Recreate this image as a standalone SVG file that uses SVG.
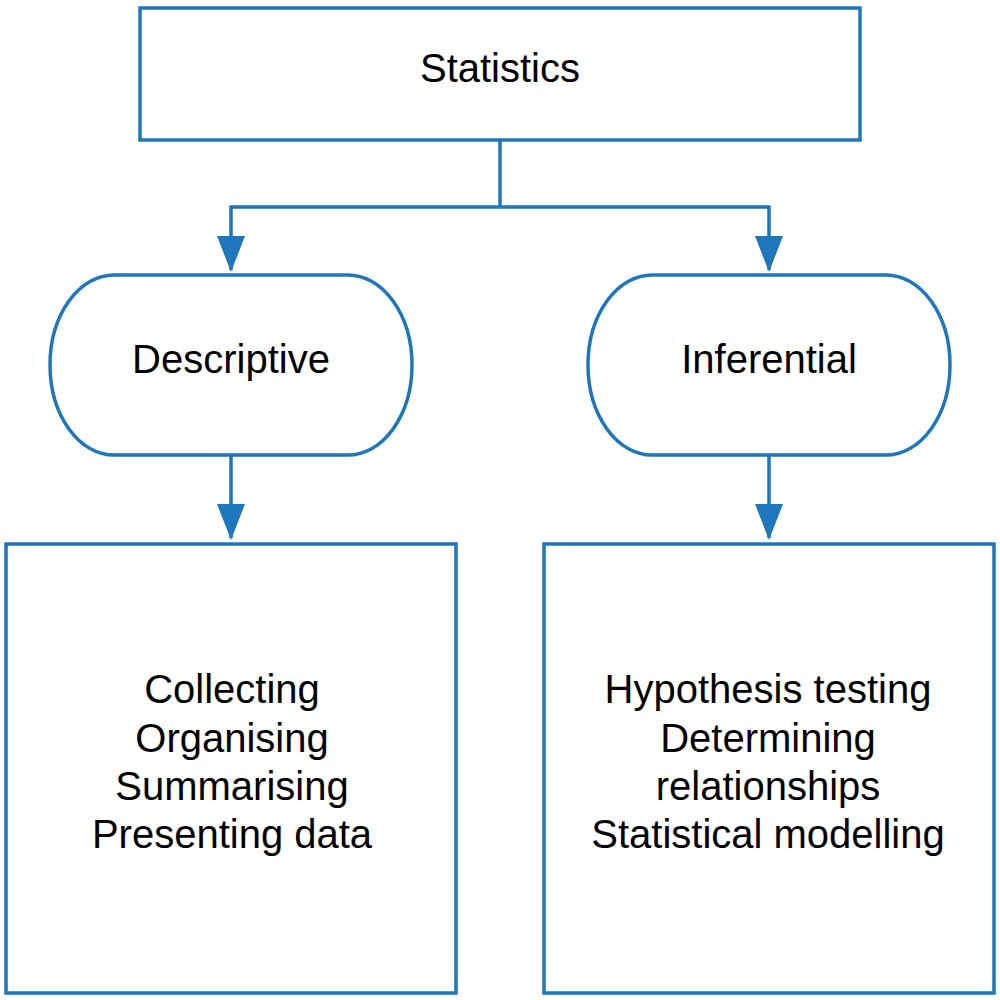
<svg xmlns="http://www.w3.org/2000/svg" width="1000" height="1000" viewBox="0 0 1000 1000">
<style>
.box{fill:#fff;stroke:#1e76bc;stroke-width:3.5}
.conn{fill:none;stroke:#1e76bc;stroke-width:3.5}
text{font-family:"Liberation Sans",Arial,sans-serif;font-size:40px;fill:#000;text-anchor:middle}
</style>
<defs>
<marker id="arr" markerUnits="userSpaceOnUse" markerWidth="36" markerHeight="28" refX="34" refY="14" orient="auto">
<path d="M0,0 L36,14 L0,28 z" fill="#1e76bc"/>
</marker>
</defs>
<rect width="1000" height="1000" fill="#fff"/>
<g id="connectors">
<path class="conn" d="M500,140 V207 H231 V270" marker-end="url(#arr)"/>
<path class="conn" d="M500,207 H769 V270" marker-end="url(#arr)"/>
<path class="conn" d="M231,455 V538" marker-end="url(#arr)"/>
<path class="conn" d="M769,455 V538" marker-end="url(#arr)"/>
</g>
<g id="statistics">
<rect class="box" x="140" y="8" width="720" height="132"/>
<text x="500" y="82">Statistics</text>
</g>
<g id="descriptive">
<rect class="box" x="50" y="275" width="362" height="180" rx="64" ry="90"/>
<text x="231" y="373">Descriptive</text>
</g>
<g id="inferential">
<rect class="box" x="588" y="275" width="362" height="180" rx="64" ry="90"/>
<text x="769" y="373">Inferential</text>
</g>
<g id="descriptive-tasks">
<rect class="box" x="6" y="544" width="450" height="449"/>
<text x="232" y="703">Collecting</text>
<text x="232" y="752">Organising</text>
<text x="232" y="800">Summarising</text>
<text x="232" y="848">Presenting data</text>
</g>
<g id="inferential-tasks">
<rect class="box" x="544" y="544" width="450" height="449"/>
<text x="768" y="703">Hypothesis testing</text>
<text x="768" y="752">Determining</text>
<text x="768" y="800">relationships</text>
<text x="768" y="848">Statistical modelling</text>
</g>
</svg>
